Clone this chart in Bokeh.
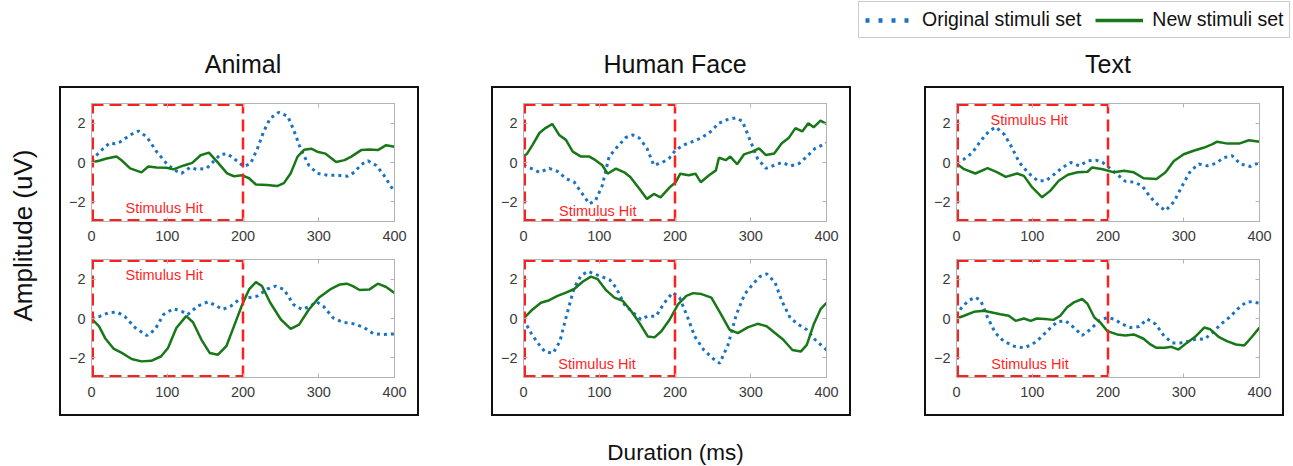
import math
import numpy as np
from bokeh.plotting import figure
from bokeh.layouts import column, row
from bokeh.models import (Range1d, FixedTicker, LinearAxis, Label,
                          Legend, LegendItem, Spacer)
from bokeh.embed import file_html
from bokeh.resources import INLINE

# ---------------- data ----------------
panel_titles = ["Animal", "Human Face", "Text"]
series_names = ["Original stimuli set", "New stimuli set"]
x_ticks = [0, 100, 200, 300, 400]
y_ticks = [-2, 0, 2]
stim_window = [0, 200]
amp_limits = [-3, 3]
time_limits = [0, 400]
stim_label = "Stimulus Hit"

# Animal, top
animal_top_orig_t = [0, 11, 24, 31, 38, 51, 62, 73, 86, 99, 110, 119, 130, 139, 152, 161, 170, 179, 188, 201, 210, 219, 227, 236, 247, 259, 267, 276, 287, 298, 312, 325, 338, 347, 356, 365, 376, 386, 400]
animal_top_orig_v = [0.1, 0.55, 1.0, 0.95, 1.05, 1.4, 1.6, 1.3, 0.55, -0.05, -0.4, -0.55, -0.25, -0.35, -0.3, 0.05, 0.4, 0.45, 0.2, -0.2, -0.05, 0.7, 1.55, 2.25, 2.55, 2.35, 1.65, 0.7, -0.15, -0.55, -0.65, -0.65, -0.7, -0.5, -0.1, 0.08, -0.15, -0.65, -1.5]
animal_top_new_t = [0, 11, 20, 33, 40, 51, 66, 75, 86, 99, 108, 122, 133, 144, 155, 166, 179, 188, 199, 208, 217, 232, 245, 254, 263, 272, 281, 290, 298, 309, 323, 334, 343, 356, 367, 378, 389, 400]
animal_top_new_v = [0.0, 0.1, 0.2, 0.3, 0.1, -0.3, -0.5, -0.2, -0.25, -0.27, -0.35, -0.15, -0.02, 0.37, 0.5, 0.03, -0.55, -0.7, -0.65, -0.8, -1.12, -1.15, -1.2, -1.05, -0.55, 0.3, 0.65, 0.7, 0.55, 0.45, 0.03, 0.12, 0.3, 0.63, 0.66, 0.63, 0.88, 0.8]

# Animal, bottom
animal_bot_orig_t = [0, 10, 23, 34, 44, 58, 73, 84, 95, 108, 119, 127, 140, 154, 162, 173, 184, 195, 206, 219, 232, 243, 254, 267, 278, 289, 297, 306, 319, 332, 345, 359, 372, 385, 400]
animal_bot_orig_v = [0.05, 0.1, 0.3, 0.32, 0.1, -0.48, -0.87, -0.56, 0.2, 0.5, 0.37, 0.2, 0.63, 0.85, 0.7, 0.46, 0.63, 0.97, 1.05, 1.14, 1.5, 1.65, 1.48, 0.7, 0.46, 0.63, 0.85, 0.63, 0.03, -0.19, -0.26, -0.44, -0.77, -0.82, -0.78]
animal_bot_new_t = [0, 10, 18, 29, 40, 53, 66, 79, 92, 101, 112, 125, 134, 145, 156, 167, 178, 188, 199, 208, 217, 225, 236, 250, 263, 274, 287, 300, 315, 328, 337, 345, 354, 367, 378, 389, 400]
animal_bot_new_v = [0.0, -0.4, -1.0, -1.53, -1.75, -2.06, -2.18, -2.15, -1.92, -1.5, -0.48, 0.12, -0.19, -1.07, -1.75, -1.84, -1.41, -0.4, 0.71, 1.48, 1.85, 1.65, 0.8, -0.05, -0.53, -0.31, 0.46, 1.05, 1.48, 1.73, 1.77, 1.65, 1.45, 1.48, 1.77, 1.6, 1.3]

# Human Face, top
face_top_orig_t = [0, 10, 21, 34, 45, 56, 67, 76, 87, 95, 104, 113, 124, 135, 144, 153, 163, 172, 183, 192, 201, 212, 223, 234, 245, 258, 269, 280, 289, 298, 309, 320, 331, 341, 353, 364, 374, 385, 400]
face_top_orig_v = [-0.14, -0.3, -0.5, -0.3, -0.45, -0.82, -1.0, -1.5, -2.1, -1.94, -1.17, 0.3, 0.8, 1.27, 1.4, 1.24, 0.72, -0.14, 0.0, 0.2, 0.64, 0.9, 1.06, 1.24, 1.5, 2.0, 2.18, 2.27, 2.1, 1.24, 0.2, -0.3, -0.14, 0.0, -0.17, -0.05, 0.3, 0.72, 0.98]
face_top_new_t = [0, 5, 12, 21, 29, 38, 47, 56, 65, 76, 87, 95, 104, 111, 122, 133, 141, 153, 163, 172, 181, 192, 201, 207, 218, 227, 234, 245, 254, 258, 267, 273, 282, 291, 302, 311, 320, 331, 341, 350, 359, 368, 376, 383, 392, 400]
face_top_new_v = [0.3, 0.46, 0.9, 1.5, 1.75, 1.96, 1.4, 1.15, 0.55, 0.3, 0.3, 0.12, -0.14, -0.57, -0.31, -0.5, -0.74, -1.34, -1.85, -1.6, -1.77, -1.3, -1.0, -0.57, -0.65, -0.57, -1.0, -0.65, -0.4, 0.24, 0.12, 0.3, -0.09, 0.41, 0.55, 0.72, 0.38, 0.46, 0.98, 1.24, 1.75, 1.58, 2.0, 1.79, 2.13, 1.96]

# Human Face, bottom
face_bot_orig_t = [0, 10, 19, 28, 39, 48, 56, 67, 76, 85, 96, 105, 114, 122, 133, 145, 155, 164, 175, 186, 197, 206, 217, 226, 238, 250, 259, 270, 281, 292, 303, 312, 321, 332, 341, 352, 363, 374, 385, 400]
face_bot_orig_v = [-0.05, -0.74, -1.25, -1.68, -1.77, -1.17, 0.03, 1.58, 2.18, 2.4, 2.23, 2.1, 1.96, 1.58, 0.72, 0.29, -0.05, 0.12, 0.12, 0.8, 1.32, 1.06, 0.03, -0.91, -1.6, -2.03, -2.28, -1.34, 0.2, 1.24, 1.75, 2.13, 2.27, 1.84, 0.9, 0.03, -0.31, -0.57, -1.08, -1.6]
face_bot_new_t = [0, 12, 23, 34, 45, 56, 67, 78, 89, 98, 109, 120, 131, 142, 153, 164, 173, 182, 193, 204, 215, 224, 235, 248, 261, 272, 283, 296, 309, 321, 332, 343, 355, 366, 374, 383, 392, 400]
face_bot_new_v = [0.0, 0.46, 0.8, 0.93, 1.15, 1.32, 1.5, 1.87, 2.13, 2.0, 1.44, 1.06, 0.9, 0.38, -0.22, -0.91, -0.96, -0.65, -0.05, 0.72, 1.15, 1.29, 1.24, 1.06, 0.2, -0.57, -0.74, -0.45, -0.27, -0.39, -0.74, -1.08, -1.6, -1.68, -1.34, -0.31, 0.46, 0.8]

# Text, top
text_top_orig_t = [0, 10, 21, 32, 43, 52, 63, 72, 83, 94, 107, 118, 129, 140, 151, 162, 173, 184, 193, 201, 212, 223, 234, 245, 256, 267, 276, 287, 298, 309, 320, 331, 342, 353, 364, 375, 388, 400]
text_top_orig_v = [0.0, 0.17, 0.5, 1.1, 1.6, 1.8, 1.43, 0.84, 0.0, -0.5, -0.93, -0.93, -0.6, -0.25, 0.0, -0.17, 0.08, 0.12, 0.0, -0.25, -0.6, -0.96, -1.0, -1.18, -1.77, -2.2, -2.45, -2.0, -1.18, -0.42, -0.08, -0.17, -0.05, 0.25, 0.34, -0.08, -0.2, 0.0]
text_top_new_t = [0, 10, 25, 41, 54, 65, 80, 89, 100, 113, 124, 135, 147, 160, 173, 179, 193, 208, 221, 234, 247, 264, 276, 287, 300, 313, 327, 338, 344, 358, 373, 386, 400]
text_top_new_v = [-0.05, -0.34, -0.56, -0.29, -0.5, -0.73, -0.56, -0.68, -1.27, -1.77, -1.43, -0.93, -0.62, -0.5, -0.47, -0.25, -0.34, -0.5, -0.42, -0.5, -0.8, -0.84, -0.5, 0.08, 0.42, 0.6, 0.76, 0.93, 1.06, 0.96, 0.96, 1.13, 1.05]

# Text, bottom
text_bot_orig_t = [0, 7, 16, 25, 32, 40, 51, 62, 76, 89, 100, 111, 122, 133, 144, 155, 166, 177, 188, 199, 208, 219, 230, 241, 252, 263, 274, 285, 296, 307, 318, 327, 338, 349, 360, 371, 382, 390, 400]
text_bot_orig_v = [0.14, 0.57, 0.91, 1.08, 0.91, 0.14, -0.72, -1.15, -1.41, -1.49, -1.32, -0.98, -0.55, -0.17, -0.12, -0.46, -0.86, -0.55, -0.12, 0.05, -0.03, -0.29, -0.46, -0.41, -0.03, -0.29, -0.89, -1.24, -1.24, -1.15, -1.03, -1.06, -0.72, -0.29, 0.05, 0.48, 0.82, 0.86, 0.77]
text_bot_new_t = [0, 10, 23, 36, 47, 58, 69, 78, 89, 98, 106, 117, 128, 137, 146, 155, 166, 173, 182, 190, 199, 212, 223, 234, 247, 256, 264, 275, 284, 293, 304, 315, 327, 335, 346, 357, 369, 380, 389, 400]
text_bot_new_v = [0.0, 0.14, 0.34, 0.39, 0.31, 0.22, 0.14, -0.12, 0.0, -0.12, 0.0, -0.03, -0.07, 0.14, 0.57, 0.82, 0.99, 0.74, 0.05, -0.21, -0.64, -0.81, -0.86, -0.81, -1.03, -1.32, -1.49, -1.49, -1.44, -1.58, -1.24, -0.93, -0.46, -0.55, -0.93, -1.15, -1.32, -1.37, -0.98, -0.46]

# ---------------- styles ----------------
FONT = "Liberation Sans"
BLUE = "#1a72c2"
GREEN = "#187818"
RED = "#ff1f1f"
AXIS = "#b3b3b3"
TICKLAB = "#3a3a3a"

PANEL_W = 360
PANEL_H = 330
BL, BR = 32, 25
TOP_H = 162


def make_axes_fig(t_o, v_o, t_n, v_n, top, label_xy):
    h = TOP_H if top else PANEL_H - TOP_H
    p = figure(width=PANEL_W, height=h,
               x_range=Range1d(*time_limits), y_range=Range1d(*amp_limits),
               output_backend="svg", toolbar_location=None,
               min_border_left=BL, min_border_right=BR,
               min_border_top=17 if top else 11,
               min_border_bottom=27 if top else 39,
               border_fill_alpha=0, background_fill_color="white",
               outline_line_color=AXIS)
    p.grid.visible = False
    p.xaxis.ticker = FixedTicker(ticks=x_ticks)
    p.yaxis.ticker = FixedTicker(ticks=y_ticks)
    for ax in list(p.xaxis) + list(p.yaxis):
        ax.axis_line_color = AXIS
        ax.major_tick_line_color = AXIS
        ax.minor_tick_line_color = None
        ax.major_tick_in = 4
        ax.major_tick_out = 0
        ax.major_label_text_font = FONT
        ax.major_label_text_font_size = "14.5px"
        ax.major_label_text_color = TICKLAB
    p.xaxis.major_label_standoff = 9
    p.yaxis.major_label_standoff = 6
    # inward ticks on the top and right edges (no labels)
    for loc, ticks in (("above", x_ticks), ("right", y_ticks)):
        ax = LinearAxis(ticker=FixedTicker(ticks=ticks), axis_line_color=AXIS,
                        major_tick_line_color=AXIS, minor_tick_line_color=None,
                        major_tick_in=4, major_tick_out=0, major_label_standoff=0,
                        major_label_text_font_size="1px",
                        major_label_text_color=None)
        p.add_layout(ax, loc)

    p.line(t_o, v_o, line_color=BLUE, line_width=3, line_dash="3 4")
    p.line(t_n, v_n, line_color=GREEN, line_width=2.5)

    # "stimulus hit" window: dashed rectangle t in stim_window, full amplitude span.
    # Edges lying on the axes frame are drawn thicker because half is clipped.
    t0, t1 = stim_window
    a0, a1 = amp_limits
    p.segment(x0=[t0, t0, t0], y0=[a0, a1, a0], x1=[t0, t1, t1], y1=[a1, a1, a0],
              line_color=RED, line_width=5, line_dash="12 6")
    p.segment(x0=[t1], y0=[a0], x1=[t1], y1=[a1],
              line_color=RED, line_width=2.5, line_dash="12 6")
    p.add_layout(Label(x=label_xy[0], y=label_xy[1], text=stim_label,
                       text_color=RED, text_font=FONT, text_font_size="14.5px",
                       text_align="left", text_baseline="middle"))
    return p


panel_data = [
    (animal_top_orig_t, animal_top_orig_v, animal_top_new_t, animal_top_new_v,
     animal_bot_orig_t, animal_bot_orig_v, animal_bot_new_t, animal_bot_new_v,
     (45, -2.3), (45, 2.2)),
    (face_top_orig_t, face_top_orig_v, face_top_new_t, face_top_new_v,
     face_bot_orig_t, face_bot_orig_v, face_bot_new_t, face_bot_new_v,
     (47, -2.45), (46, -2.3)),
    (text_top_orig_t, text_top_orig_v, text_top_new_t, text_top_new_v,
     text_bot_orig_t, text_bot_orig_v, text_bot_new_t, text_bot_new_v,
     (45, 2.15), (46, -2.33)),
]

panels = []
for d in panel_data:
    top = make_axes_fig(d[0], d[1], d[2], d[3], True, d[8])
    bot = make_axes_fig(d[4], d[5], d[6], d[7], False, d[9])
    panels.append(column(top, bot, width=PANEL_W, height=PANEL_H,
                         styles={"outline": "2px solid #111111",
                                 "outline-offset": "-2px"}))

TOTAL_W = 1293
PANEL_LEFTS = [59, 491, 924]

# header: legend + titles
header = figure(width=TOTAL_W, height=86, x_range=Range1d(0, TOTAL_W),
                y_range=Range1d(0, 86), output_backend="svg",
                toolbar_location=None, min_border=0,
                x_axis_location=None, y_axis_location=None,
                outline_line_color=None)
header.grid.visible = False
# legend proxies (no visible data of their own)
r1 = header.line(np.array([np.nan, np.nan]), np.array([np.nan, np.nan]),
                 line_color=BLUE, line_width=4.5, line_dash="4 9")
r2 = header.line(np.array([np.nan, np.nan]), np.array([np.nan, np.nan]),
                 line_color=GREEN, line_width=3.5)
legend = Legend(items=[LegendItem(label=series_names[0], renderers=[r1]),
                       LegendItem(label=series_names[1], renderers=[r2])],
                orientation="horizontal", location=(858, 48),
                label_text_font=FONT, label_text_font_size="19.5px",
                label_text_color="#111111", label_standoff=9,
                glyph_width=48, glyph_height=20, spacing=14, padding=6,
                margin=0, border_line_color="#9a9a9a", border_line_width=1,
                background_fill_color="white")
header.add_layout(legend)
for title, left in zip(panel_titles, PANEL_LEFTS):
    header.add_layout(Label(x=left + BL + 151.5, y=23, text=title,
                            text_font=FONT, text_font_size="25px",
                            text_color="#111111", text_align="center",
                            text_baseline="middle"))

# y label
ylab = figure(width=59, height=PANEL_H, x_range=Range1d(0, 59),
              y_range=Range1d(0, PANEL_H), output_backend="svg",
              toolbar_location=None, min_border=0,
              x_axis_location=None, y_axis_location=None,
              outline_line_color=None)
ylab.grid.visible = False
ylab.add_layout(Label(x=22, y=181, text="Amplitude (uV)", angle=math.pi / 2,
                      text_font=FONT, text_font_size="26px",
                      text_color="#111111", text_align="center",
                      text_baseline="middle"))

# x label
footer = figure(width=TOTAL_W, height=50, x_range=Range1d(0, TOTAL_W),
                y_range=Range1d(0, 50), output_backend="svg",
                toolbar_location=None, min_border=0,
                x_axis_location=None, y_axis_location=None,
                outline_line_color=None)
footer.grid.visible = False
footer.add_layout(Label(x=675, y=14, text="Duration (ms)",
                        text_font=FONT, text_font_size="22.5px",
                        text_color="#111111", text_align="center",
                        text_baseline="middle"))

mid = row(ylab, panels[0], Spacer(width=PANEL_LEFTS[1] - PANEL_LEFTS[0] - PANEL_W),
          panels[1], Spacer(width=PANEL_LEFTS[2] - PANEL_LEFTS[1] - PANEL_W),
          panels[2], Spacer(width=TOTAL_W - PANEL_LEFTS[2] - PANEL_W))
p = column(header, mid, footer)

open("out.html", "w").write(file_html(p, INLINE))
